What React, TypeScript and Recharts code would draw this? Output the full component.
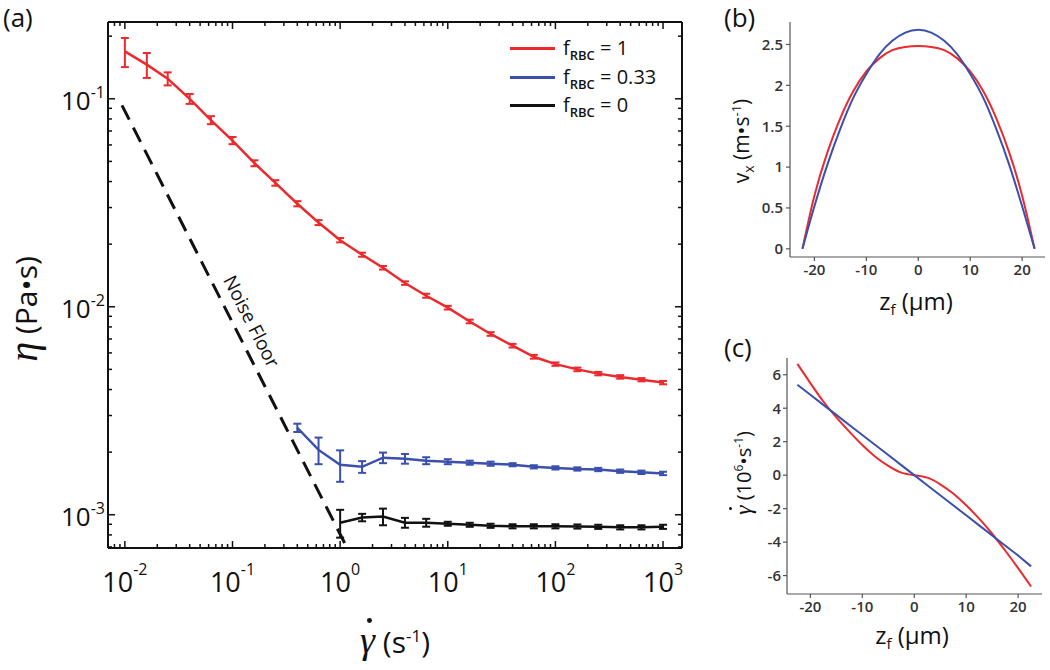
import React from "react";
import { ComposedChart, LineChart, Line, XAxis, YAxis, ErrorBar, ReferenceDot } from "recharts";

const FONT = '"Open Sans", "DejaVu Sans", sans-serif';
const SERIF = '"Liberation Serif", "DejaVu Serif", serif';
const RED = "#ec2a2e";
const BLUE = "#3b50ad";
const BLACK = "#111";

// (a) shear rate sweep, 5 points per decade
const shearRate = [0.01, 0.016, 0.025, 0.04, 0.063, 0.1, 0.16, 0.25, 0.4, 0.63, 1, 1.6, 2.5, 4, 6.3, 10, 16, 25, 40, 63, 100, 160, 250, 400, 630, 1000];

const etaRbc1 = [0.169, 0.146, 0.125, 0.1, 0.079, 0.063, 0.049, 0.0394, 0.0313, 0.0254, 0.0209, 0.0178, 0.0154, 0.013, 0.0113, 0.0099, 0.0085, 0.0074, 0.0065, 0.00575, 0.0053, 0.005, 0.00477, 0.0046, 0.00446, 0.00432];
const errRbc1 = [0.027, 0.02, 0.009, 0.0055, 0.0035, 0.0025, 0.0016, 0.0012, 0.0009, 0.0007, 0.0005, 0.0004, 0.0003, 0.00025, 0.00025, 0.0002, 0.00017, 0.00015, 0.00013, 0.00012, 0.0001, 0.0001, 0.00009, 0.00009, 0.00008, 0.00008];

// blue starts at 0.4 s^-1, black at 1 s^-1
const etaRbc033 = [0.00262, 0.00205, 0.00174, 0.0017, 0.00188, 0.00186, 0.00182, 0.0018, 0.00178, 0.00176, 0.00174, 0.0017, 0.00168, 0.00166, 0.00165, 0.00162, 0.0016, 0.00158];
const errRbc033 = [0.00012, 0.0003, 0.0003, 0.00011, 0.00011, 0.0001, 0.00007, 0.00005, 0.00004, 0.00004, 0.00003, 0.00003, 0.00003, 0.00003, 0.00003, 0.00003, 0.00003, 0.00003];

const etaRbc0 = [0.000916, 0.00097, 0.00098, 0.000916, 0.000916, 0.000905, 0.000895, 0.000885, 0.00088, 0.00088, 0.00088, 0.000878, 0.000875, 0.00087, 0.00087, 0.000875];
const errRbc0 = [0.00014, 0.00004, 0.00009, 0.00005, 0.00004, 0.00002, 0.00002, 0.00002, 0.00002, 0.00002, 0.00002, 0.00002, 0.00002, 0.00002, 0.00002, 0.00002];

const noiseRate = [0.0094, 1.6];
const noiseEta = [0.093, 0.0005];

// (b) velocity profiles
const zProfile = [-22.3, -20, -17.5, -15, -12.5, -10, -7.5, -5, -2.5, 0, 2.5, 5, 7.5, 10, 12.5, 15, 17.5, 20, 22.4];
const velRed = [0, 0.65, 1.18, 1.6, 1.93, 2.17, 2.33, 2.43, 2.47, 2.48, 2.47, 2.43, 2.33, 2.17, 1.93, 1.6, 1.18, 0.65, 0];
const velBlue = [0, 0.52, 1.03, 1.47, 1.85, 2.14, 2.38, 2.545, 2.646, 2.68, 2.646, 2.545, 2.38, 2.14, 1.85, 1.47, 1.03, 0.52, 0];

// (c) shear rate profiles
const zShear = [-22.5, -20, -17.5, -15, -12.5, -10, -7.5, -5, -2.5, 0, 2.5, 5, 7.5, 10, 12.5, 15, 17.5, 20, 22.5];
const shearRed = [6.65, 5.5, 4.4, 3.45, 2.6, 1.8, 1.1, 0.55, 0.15, 0, -0.15, -0.55, -1.1, -1.8, -2.6, -3.5, -4.5, -5.55, -6.65];
const shearBlue = [5.4, 4.8, 4.2, 3.6, 3.0, 2.4, 1.8, 1.2, 0.6, 0, -0.6, -1.2, -1.8, -2.4, -3.0, -3.6, -4.2, -4.8, -5.45];

const xTicksB = [-20, -10, 0, 10, 20];
const yTicksB = [0, 0.5, 1, 1.5, 2, 2.5];
const yTicksC = [-6, -4, -2, 0, 2, 4, 6];

function logTicks(lo: number, hi: number, min: number, max: number) {
  const out: number[] = [];
  for (let e = lo; e <= hi; e++) {
    for (let m = 1; m <= 9; m++) {
      const v = Number((m * Math.pow(10, e)).toPrecision(6));
      if (v >= min && v <= max) out.push(v);
    }
  }
  return out;
}

const xDomainA: [number, number] = [0.00697, 1500];
const yDomainA: [number, number] = [0.000692, 0.234];
const xTicksA = logTicks(-3, 3, xDomainA[0], xDomainA[1]);
const yTicksA = logTicks(-4, -1, yDomainA[0], yDomainA[1]);

const redData = shearRate.map((g, i) => ({ g, eta: etaRbc1[i], err: errRbc1[i] }));
const blueData = etaRbc033.map((eta, i) => ({ g: shearRate[i + 8], eta, err: errRbc033[i] }));
const blackData = etaRbc0.map((eta, i) => ({ g: shearRate[i + 10], eta, err: errRbc0[i] }));
const noiseData = noiseRate.map((g, i) => ({ g, eta: noiseEta[i] }));
const profileData = zProfile.map((z, i) => ({ z, red: velRed[i], blue: velBlue[i] }));
const shearData = zShear.map((z, i) => ({ z, red: shearRed[i], blue: shearBlue[i] }));

const isMajor = (v: number) => Math.abs(Math.log10(v) - Math.round(Math.log10(v))) < 1e-6;
const expOf = (v: number) => String(Math.round(Math.log10(v)));

function BottomTick({ x, y, payload }: any) {
  const major = isMajor(payload.value);
  return (
    <g>
      <line x1={x} x2={x} y1={y} y2={y - (major ? 7 : 4)} stroke={BLACK} strokeWidth={1.5} />
      {major && (
        <text x={x} y={y + 44} textAnchor="middle" fontSize={27} fill={BLACK} fontFamily={FONT}>
          10<tspan dy={-17} fontSize={16}>{expOf(payload.value)}</tspan>
        </text>
      )}
    </g>
  );
}

function TopTick({ x, y, payload }: any) {
  const major = isMajor(payload.value);
  return <line x1={x} x2={x} y1={y} y2={y + (major ? 7 : 4)} stroke={BLACK} strokeWidth={1.5} />;
}

function LeftTick({ x, y, payload }: any) {
  const major = isMajor(payload.value);
  return (
    <g>
      <line x1={x} x2={x + (major ? 7 : 4)} y1={y} y2={y} stroke={BLACK} strokeWidth={1.5} />
      {major && (
        <text x={x - 3} y={y + 11} textAnchor="end" fontSize={26} fill={BLACK} fontFamily={FONT}>
          10<tspan dy={-12} fontSize={16}>{expOf(payload.value)}</tspan>
        </text>
      )}
    </g>
  );
}

function RightTick({ x, y, payload }: any) {
  const major = isMajor(payload.value);
  return <line x1={x} x2={x - (major ? 7 : 4)} y1={y} y2={y} stroke={BLACK} strokeWidth={1.5} />;
}

const NoiseLabel = (p: any) => (
  <text
    x={p.cx}
    y={p.cy}
    dy="0.35em"
    textAnchor="middle"
    fontSize={19}
    fill={BLACK}
    fontFamily={FONT}
    transform={`rotate(63 ${p.cx} ${p.cy})`}
  >
    Noise Floor
  </text>
);

const axisA = { stroke: BLACK, strokeWidth: 2 };

function PanelA() {
  return (
    <ComposedChart width={700} height={670} margin={{ top: 12, right: 8, bottom: 62, left: 48 }}>
      <XAxis
        xAxisId="bottom"
        dataKey="g"
        type="number"
        scale="log"
        domain={xDomainA}
        allowDataOverflow
        ticks={xTicksA}
        interval={0}
        height={60}
        tickSize={0}
        tickMargin={0}
        tickLine={false}
        axisLine={axisA}
        tick={BottomTick}
      />
      <XAxis
        xAxisId="top"
        orientation="top"
        dataKey="g"
        type="number"
        scale="log"
        domain={xDomainA}
        allowDataOverflow
        ticks={xTicksA}
        interval={0}
        height={10}
        tickSize={0}
        tickMargin={0}
        tickLine={false}
        axisLine={axisA}
        tick={TopTick}
      />
      <YAxis
        yAxisId="left"
        type="number"
        scale="log"
        domain={yDomainA}
        allowDataOverflow
        ticks={yTicksA}
        interval={0}
        width={60}
        tickSize={0}
        tickMargin={0}
        tickLine={false}
        axisLine={axisA}
        tick={LeftTick}
      />
      <YAxis
        yAxisId="right"
        orientation="right"
        type="number"
        scale="log"
        domain={yDomainA}
        allowDataOverflow
        ticks={yTicksA}
        interval={0}
        width={10}
        tickSize={0}
        tickMargin={0}
        tickLine={false}
        axisLine={axisA}
        tick={RightTick}
      />
      <Line
        xAxisId="bottom"
        yAxisId="left"
        data={noiseData}
        dataKey="eta"
        stroke={BLACK}
        strokeWidth={3}
        strokeDasharray="16 9"
        dot={false}
        isAnimationActive={false}
      />
      <Line xAxisId="bottom" yAxisId="left" data={redData} dataKey="eta" stroke={RED} strokeWidth={2.5} dot={false} isAnimationActive={false}>
        <ErrorBar dataKey="err" direction="y" width={4} stroke={RED} strokeWidth={2} />
      </Line>
      <Line xAxisId="bottom" yAxisId="left" data={blueData} dataKey="eta" stroke={BLUE} strokeWidth={2.5} dot={false} isAnimationActive={false}>
        <ErrorBar dataKey="err" direction="y" width={4} stroke={BLUE} strokeWidth={2} />
      </Line>
      <Line xAxisId="bottom" yAxisId="left" data={blackData} dataKey="eta" stroke={BLACK} strokeWidth={2.5} dot={false} isAnimationActive={false}>
        <ErrorBar dataKey="err" direction="y" width={4} stroke={BLACK} strokeWidth={2} />
      </Line>
      <ReferenceDot xAxisId="bottom" yAxisId="left" x={0.15} y={0.0085} r={0} shape={NoiseLabel} />
    </ComposedChart>
  );
}

const tickStyle = { fontSize: 15, fill: "#333", fontWeight: 600, fontFamily: FONT };
const thinAxis = { stroke: "#555", strokeWidth: 1.2 };

function PanelB() {
  return (
    <LineChart width={320} height={320} data={profileData} margin={{ top: 22, right: 5, bottom: 0, left: 0 }}>
      <XAxis
        dataKey="z"
        type="number"
        domain={[-24.7, 24.4]}
        allowDataOverflow
        ticks={xTicksB}
        interval={0}
        height={63}
        tickSize={4}
        tickMargin={3}
        tick={tickStyle}
        tickLine={thinAxis}
        axisLine={thinAxis}
      />
      <YAxis
        type="number"
        domain={[-0.1, 2.775]}
        allowDataOverflow
        ticks={yTicksB}
        interval={0}
        width={60}
        tickSize={4}
        tickMargin={3}
        tick={tickStyle}
        tickLine={thinAxis}
        axisLine={thinAxis}
      />
      <Line type="natural" dataKey="red" stroke={RED} strokeWidth={2} dot={false} isAnimationActive={false} />
      <Line type="natural" dataKey="blue" stroke={BLUE} strokeWidth={2} dot={false} isAnimationActive={false} />
    </LineChart>
  );
}

function PanelC() {
  return (
    <LineChart width={320} height={340} data={shearData} margin={{ top: 28, right: 8, bottom: 0, left: 0 }}>
      <XAxis
        dataKey="z"
        type="number"
        domain={[-24.5, 24.6]}
        allowDataOverflow
        ticks={xTicksB}
        interval={0}
        height={76}
        tickSize={4}
        tickMargin={3}
        tick={tickStyle}
        tickLine={thinAxis}
        axisLine={thinAxis}
      />
      <YAxis
        type="number"
        domain={[-7.1, 7]}
        allowDataOverflow
        ticks={yTicksC}
        interval={0}
        width={57}
        tickSize={4}
        tickMargin={2}
        tick={tickStyle}
        tickLine={thinAxis}
        axisLine={thinAxis}
      />
      <Line type="natural" dataKey="red" stroke={RED} strokeWidth={2} dot={false} isAnimationActive={false} />
      <Line type="linear" dataKey="blue" stroke={BLUE} strokeWidth={2} dot={false} isAnimationActive={false} />
    </LineChart>
  );
}

const abs = (left: number, top: number): React.CSSProperties => ({ position: "absolute", left, top, lineHeight: 1, whiteSpace: "nowrap" });
const centered = (cx: number, cy: number, rotate = 0): React.CSSProperties => ({
  position: "absolute",
  left: cx,
  top: cy,
  transform: `translate(-50%, -50%) rotate(${rotate}deg)`,
  whiteSpace: "nowrap",
  lineHeight: 1,
});

function GammaDot({ size }: { size: number }) {
  return (
    <span style={{ position: "relative", display: "inline-block", fontFamily: SERIF, fontStyle: "italic", fontSize: size }}>
      γ
      <span
        style={{
          position: "absolute",
          left: "50%",
          top: "-0.08em",
          width: size * 0.13,
          height: size * 0.13,
          borderRadius: "50%",
          background: BLACK,
        }}
      />
    </span>
  );
}

function LegendRow({ top, color, value }: { top: number; color: string; value: string }) {
  return (
    <div style={{ ...abs(510, top - 12), display: "flex", alignItems: "center", height: 24 }}>
      <div style={{ width: 45, height: 3, background: color }} />
      <span style={{ marginLeft: 8, fontSize: 20, color: BLACK }}>
        f<span style={{ fontSize: 13, position: "relative", top: 5, fontWeight: 600 }}>RBC</span> = {value}
      </span>
    </div>
  );
}

export default function App() {
  return (
    <div style={{ position: "absolute", left: 0, top: 0, width: 1050, height: 670, background: "#fff", fontFamily: FONT, color: BLACK, overflow: "hidden" }}>
      <div style={abs(0, 0)}>
        <PanelA />
      </div>
      <div style={abs(730, 0)}>
        <PanelB />
      </div>
      <div style={abs(730, 330)}>
        <PanelC />
      </div>

      <LegendRow top={48} color={RED} value="1" />
      <LegendRow top={77} color={BLUE} value="0.33" />
      <LegendRow top={105} color={BLACK} value="0" />

      <div style={{ ...abs(3, 4), fontSize: 26 }}>(a)</div>
      <div style={{ ...abs(724, 4), fontSize: 26 }}>(b)</div>
      <div style={{ ...abs(724, 334), fontSize: 26 }}>(c)</div>

      <div style={centered(24, 309, -90)}>
        <span style={{ fontFamily: SERIF, fontStyle: "italic", fontSize: 40 }}>η</span>
        <span style={{ fontSize: 30 }}> (Pa•s)</span>
      </div>
      <div style={centered(395, 640)}>
        <GammaDot size={38} />
        <span style={{ fontSize: 30 }}>
          {" "}(s<sup style={{ fontSize: 17 }}>-1</sup>)
        </span>
      </div>

      <div style={{ ...centered(743, 141, -90), fontSize: 21 }}>
        v<sub style={{ fontSize: 14 }}>x</sub> (m•s<sup style={{ fontSize: 13 }}>-1</sup>)
      </div>
      <div style={{ ...centered(916, 303), fontSize: 24 }}>
        z<sub style={{ fontSize: 15 }}>f</sub> (μm)
      </div>

      <div style={{ ...centered(743, 473, -90), fontSize: 20 }}>
        <GammaDot size={24} /> (10<sup style={{ fontSize: 12 }}>6</sup>•s<sup style={{ fontSize: 12 }}>-1</sup>)
      </div>
      <div style={{ ...centered(912, 637), fontSize: 24 }}>
        z<sub style={{ fontSize: 15 }}>f</sub> (μm)
      </div>
    </div>
  );
}
